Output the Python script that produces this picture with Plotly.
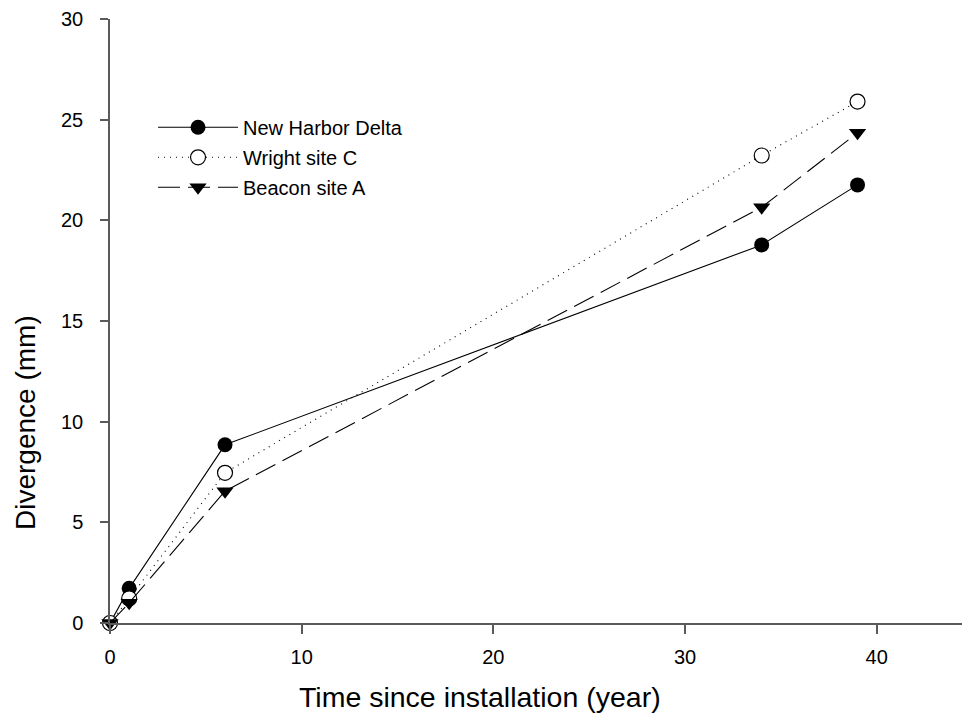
import plotly.graph_objects as go

years = [0, 1, 6, 34, 39]
new_harbor = [0, 1.72, 8.85, 18.78, 21.76]
wright_c = [0, 1.22, 7.46, 23.22, 25.9]
beacon_a = [0, 1.0, 6.55, 20.65, 24.35]

x_ticks = [0, 10, 20, 30, 40]
y_ticks = [0, 5, 10, 15, 20, 25, 30]

series = [
    ("New Harbor Delta", new_harbor, "circle", "black", "solid"),
    ("Wright site C", wright_c, "circle", "white", "1px,5px"),
    ("Beacon site A", beacon_a, "triangle-down", "black", "22px,8px"),
]

fig = go.Figure()
for i, (name, vals, sym, fill, dash) in enumerate(series):
    fig.add_trace(go.Scatter(
        x=years, y=vals, name=name, mode="lines+markers",
        line=dict(color="black", width=1.1, dash=dash),
        marker=dict(symbol=sym, size=15, color=fill,
                    line=dict(color="black", width=1.2 if fill == "white" else 0)),
        cliponaxis=False, legendgroup=f"g{i}",
    ))

axis_color = "#5a5a5a"
fig.update_layout(
    width=962, height=724,
    margin=dict(l=110, r=0, t=19, b=101),
    paper_bgcolor="white", plot_bgcolor="white",
    font=dict(family="Liberation Sans, Arial", size=20, color="black"),
    showlegend=True,
    legend=dict(x=0.0505, y=0.853, xanchor="left", yanchor="top",
                bgcolor="rgba(0,0,0,0)", tracegroupgap=1,
                traceorder="grouped", itemwidth=80,
                font=dict(size=20)),
    xaxis=dict(range=[0, 44.45], showgrid=False, zeroline=False,
               showline=True, linecolor=axis_color, linewidth=1.5,
               ticks="outside", ticklen=9, tickcolor=axis_color, tickwidth=1.5,
               tickvals=x_ticks, ticklabelstandoff=6,
               tickfont=dict(size=20), automargin=False),
    yaxis=dict(range=[0, 30], showgrid=False, zeroline=False,
               showline=True, linecolor=axis_color, linewidth=1.5,
               ticks="outside", ticklen=8, tickcolor=axis_color, tickwidth=1.5,
               tickvals=y_ticks, ticklabelstandoff=13,
               tickfont=dict(size=20), automargin=False),
    annotations=[
        dict(text="Time since installation (year)", xref="paper", yref="paper",
             x=(480 - 110) / 852, y=-(697 - 623) / 604, xanchor="center",
             yanchor="middle", showarrow=False, font=dict(size=28.5)),
        dict(text="Divergence (mm)", xref="paper", yref="paper",
             x=-(110 - 25) / 852, y=(623 - 423) / 604, xanchor="center",
             yanchor="middle", textangle=-90, showarrow=False,
             font=dict(size=28)),
    ],
)

fig.write_html("out.html", config={"displayModeBar": False},
               post_script="document.body.style.margin='0';")
